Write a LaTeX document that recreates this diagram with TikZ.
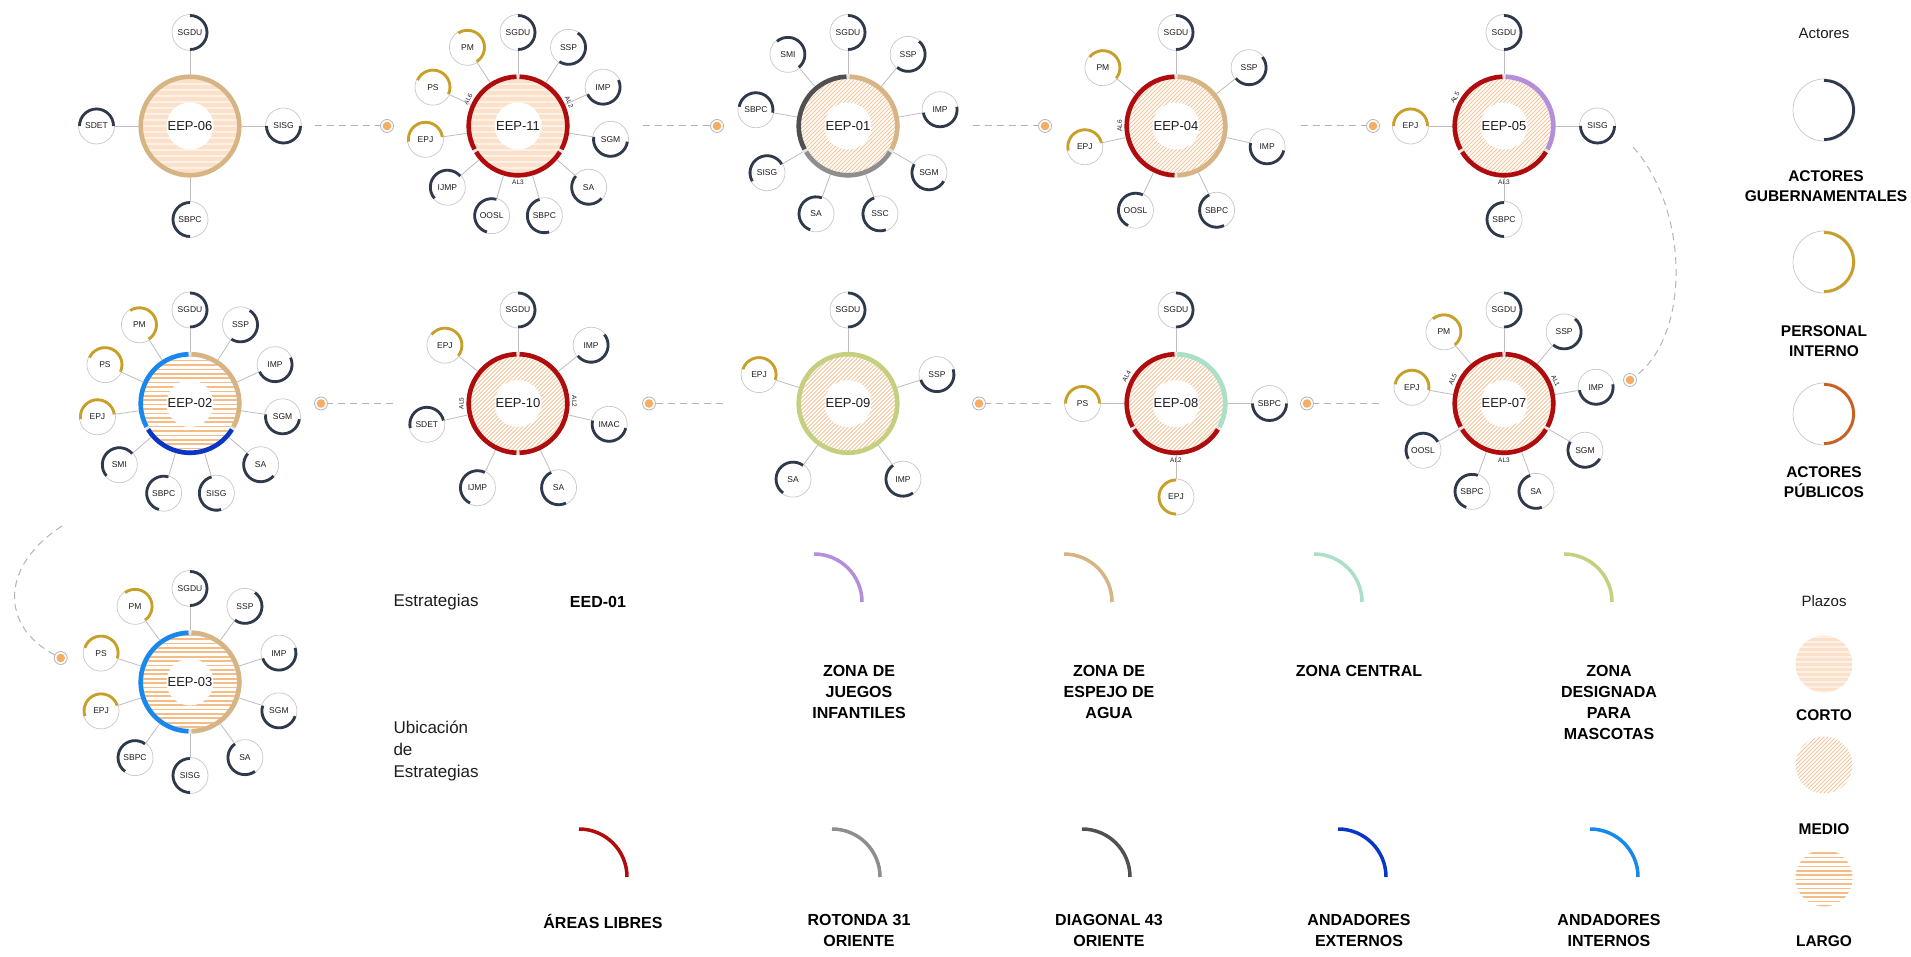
\documentclass[tikz,border=0pt]{standalone}
\usepackage{fontspec}
\setmainfont{Liberation Sans}
\usetikzlibrary{calc}
\definecolor{gov}{HTML}{2E3A4B}
\definecolor{pers}{HTML}{C9A027}
\definecolor{pub}{HTML}{C8601F}
\definecolor{alred}{HTML}{B00C0E}
\definecolor{tanc}{HTML}{D6B483}
\definecolor{purp}{HTML}{B48EDB}
\definecolor{mint}{HTML}{A9E0C6}
\definecolor{olive}{HTML}{C5CF80}
\definecolor{grayr}{HTML}{8E8E8E}
\definecolor{darkr}{HTML}{505050}
\definecolor{bext}{HTML}{0A36C8}
\definecolor{bint}{HTML}{1887EE}
\definecolor{satline}{HTML}{C8C8C8}
\definecolor{connc}{HTML}{BDBDBD}
\definecolor{cortofill}{HTML}{FBE1CA}
\definecolor{peachline}{HTML}{F2C39A}
\definecolor{largoline}{HTML}{F4BC86}
\definecolor{gapc}{HTML}{E4E4E4}
\definecolor{dashgray}{HTML}{B4B4B4}
\definecolor{dotfill}{HTML}{F5AE66}
\definecolor{txt}{HTML}{1E1E1E}
\tikzset{
  satn/.style={circle,draw=satline,line width=0.7pt,minimum size=36pt,inner sep=0pt,fill=white,text=txt,font=\fontsize{8.5}{9}\selectfont},
  ctr/.style={circle,minimum size=103pt,inner sep=0pt,text=txt,font=\fontsize{13}{14}\selectfont},
  conn/.style={draw=connc,line width=0.8pt},
  ga/.style={draw=gov,line width=2.8pt},
  pa/.style={draw=pers,line width=2.8pt},
  puba/.style={draw=pub,line width=2.8pt},
  ringw/.style={line width=4.6pt},
  allabel/.style={inner sep=0pt,text=txt,font=\fontsize{6.5}{7}\selectfont},
  dotn/.style={circle,draw=dashgray,fill=white,line width=0.8pt,minimum size=13pt,inner sep=0pt,
    path picture={\fill[dotfill] (path picture bounding box.center) circle (4.3pt);}},
  dashc/.style={draw=dashgray,line width=1pt,dash pattern=on 7pt off 5pt},
  legcirc/.style={circle,draw=satline,line width=0.7pt,minimum size=62pt,inner sep=0pt},
  legbold/.style={align=center,text=black,font=\bfseries\fontsize{15.5}{20}\selectfont},
  legreg/.style={text=txt,font=\fontsize{15}{18}\selectfont},
  stratlab/.style={align=center,anchor=north,text=black,font=\bfseries\fontsize{16}{21}\selectfont},
  legarc/.style={line width=3.5pt},
}
\newcommand\mkcl[3]{%
  \foreach \lbl/\sty [count=\k from 0] in {#3}{%
    \pgfmathsetmacro\ang{90-\k*360/#2}%
    \pgfmathsetmacro\angs{\ang-180}%
    \node[satn] (#1s\k) at ($(#1)+(\ang:93.5pt)$) {\lbl};
    \draw[\sty] ($(#1s\k)+(\angs:17pt)$) arc[start angle=\angs,end angle=\ang,radius=17pt];
    \draw[conn] (#1) -- (#1s\k);
  }}
\newcommand\fillcorto[1]{%
  \begin{scope}
    \clip (#1) circle (49.5pt);
    \fill[cortofill] (#1) circle (49.5pt);
    \foreach \yy in {-48,-42,...,48} {\draw[white,opacity=0.55,line width=1.6pt] ($(#1)+(-52,\yy)$) -- ++(104,0);}
  \end{scope}
  \fill[white] (#1) circle (23.5pt);}
\newcommand\fillmedio[1]{%
  \begin{scope}
    \clip (#1) circle (49.5pt);
    \foreach \kk in {-108,-104,...,108} {\draw[peachline,line width=0.8pt] ($(#1)+(\kk-55,-55)$) -- ++(110,110);}
  \end{scope}
  \fill[white] (#1) circle (23.5pt);}
\newcommand\filllargo[1]{%
  \begin{scope}
    \clip (#1) circle (49.5pt);
    \foreach \yy in {-49.5,-45.1,...,50} {\draw[largoline,line width=1.7pt] ($(#1)+(-52,\yy)$) -- ++(104,0);}
  \end{scope}
  \fill[white] (#1) circle (23.5pt);}
\newcommand\rseg[4]{\draw[ringw,#4] ($(#1)+(#2:49.3pt)$) arc[start angle=#2,end angle=#3,radius=49.3pt];}
\newcommand\rbase[1]{\draw[ringw,gapc] (#1) circle (49.3pt);}
\newcommand\allab[5]{\node[allabel,rotate=#3] (#4) at ($(#1)+(#2:56.5pt)$) {#5};}

\begin{document}
\begin{tikzpicture}[x=1pt,y=1pt]
\useasboundingbox (0,0) rectangle (1911,956);
\fill[white] (0,0) rectangle (1911,956);

% ---------- positions
\coordinate (p06) at (190,830);
\coordinate (p11) at (518,830);
\coordinate (p01) at (848,830);
\coordinate (p04) at (1176,830);
\coordinate (p05) at (1504,830);
\coordinate (p02) at (190,552.5);
\coordinate (p10) at (518,552.5);
\coordinate (p09) at (848,552.5);
\coordinate (p08) at (1176,552.5);
\coordinate (p07) at (1504,552.5);
\coordinate (p03) at (190,274);

% ---------- fills
\fillcorto{p06}
\fillcorto{p11}
\fillmedio{p01}
\fillmedio{p04}
\fillmedio{p05}
\filllargo{p02}
\fillmedio{p10}
\fillmedio{p09}
\fillmedio{p08}
\fillmedio{p07}
\filllargo{p03}

% ---------- centre nodes
\node[ctr] (c06) at (p06) {EEP-06};
\node[ctr] (c11) at (p11) {EEP-11};
\node[ctr] (c01) at (p01) {EEP-01};
\node[ctr] (c04) at (p04) {EEP-04};
\node[ctr] (c05) at (p05) {EEP-05};
\node[ctr] (c02) at (p02) {EEP-02};
\node[ctr] (c10) at (p10) {EEP-10};
\node[ctr] (c09) at (p09) {EEP-09};
\node[ctr] (c08) at (p08) {EEP-08};
\node[ctr] (c07) at (p07) {EEP-07};
\node[ctr] (c03) at (p03) {EEP-03};

% ---------- rings
\draw[ringw,tanc] (c06.center) circle (49.3pt);
\rbase{c11}
\rseg{c11}{88.2}{-28.2}{alred}\rseg{c11}{-31.8}{-148.2}{alred}\rseg{c11}{-151.8}{-268.2}{alred}
\allab{c11}{152}{62}{c11a}{AL6}\allab{c11}{25}{-65}{c11b}{AL2}\allab{c11}{-90}{0}{c11c}{AL3}
\rbase{c01}
\rseg{c01}{88.2}{-28.2}{tanc}\rseg{c01}{-31.8}{-148.2}{grayr}\rseg{c01}{-151.8}{-268.2}{darkr}
\rbase{c04}
\rseg{c04}{88.2}{-88.2}{tanc}\rseg{c04}{91.8}{268.2}{alred}
\allab{c04}{180}{90}{c04a}{AL6}
\rbase{c05}
\rseg{c05}{88.2}{-28.2}{purp}\rseg{c05}{-31.8}{-148.2}{alred}\rseg{c05}{-151.8}{-268.2}{alred}
\allab{c05}{150}{60}{c05a}{AL5}\allab{c05}{-90}{0}{c05b}{AL3}
\rbase{c02}
\rseg{c02}{88.2}{-28.2}{tanc}\rseg{c02}{-31.8}{-148.2}{bext}\rseg{c02}{-151.8}{-268.2}{bint}
\rbase{c10}
\rseg{c10}{88.2}{-88.2}{alred}\rseg{c10}{91.8}{268.2}{alred}
\allab{c10}{180}{90}{c10a}{AL5}\allab{c10}{2}{-90}{c10b}{AL2}
\draw[ringw,olive] (c09.center) circle (49.3pt);
\rbase{c08}
\rseg{c08}{88.2}{-28.2}{mint}\rseg{c08}{-31.8}{-148.2}{alred}\rseg{c08}{-151.8}{-268.2}{alred}
\allab{c08}{151}{61}{c08a}{AL4}\allab{c08}{-90}{0}{c08b}{AL2}
\rbase{c07}
\rseg{c07}{88.2}{-28.2}{alred}\rseg{c07}{-31.8}{-148.2}{alred}\rseg{c07}{-151.8}{-268.2}{alred}
\allab{c07}{155}{65}{c07a}{AL5}\allab{c07}{24}{-66}{c07b}{AL1}\allab{c07}{-90}{0}{c07c}{AL3}
\rbase{c03}
\rseg{c03}{88.2}{-88.2}{tanc}\rseg{c03}{91.8}{268.2}{bint}

% ---------- satellites
\mkcl{c06}{4}{SGDU/ga,SISG/ga,SBPC/ga,SDET/ga}
\mkcl{c11}{11}{SGDU/ga,SSP/ga,IMP/ga,SGM/ga,SA/ga,SBPC/ga,OOSL/ga,IJMP/ga,EPJ/pa,PS/pa,PM/pa}
\mkcl{c01}{9}{SGDU/ga,SSP/ga,IMP/ga,SGM/ga,SSC/ga,SA/ga,SISG/ga,SBPC/ga,SMI/ga}
\mkcl{c04}{7}{SGDU/ga,SSP/ga,IMP/ga,SBPC/ga,OOSL/ga,EPJ/pa,PM/pa}
\mkcl{c05}{4}{SGDU/ga,SISG/ga,SBPC/ga,EPJ/pa}
\mkcl{c02}{11}{SGDU/ga,SSP/ga,IMP/ga,SGM/ga,SA/ga,SISG/ga,SBPC/ga,SMI/ga,EPJ/pa,PS/pa,PM/pa}
\mkcl{c10}{7}{SGDU/ga,IMP/ga,IMAC/ga,SA/ga,IJMP/ga,SDET/ga,EPJ/pa}
\mkcl{c09}{5}{SGDU/ga,SSP/ga,IMP/ga,SA/ga,EPJ/pa}
\mkcl{c08}{4}{SGDU/ga,SBPC/ga,EPJ/pa,PS/pa}
\mkcl{c07}{9}{SGDU/ga,SSP/ga,IMP/ga,SGM/ga,SA/ga,SBPC/ga,OOSL/ga,EPJ/pa,PM/pa}
\mkcl{c03}{10}{SGDU/ga,SSP/ga,IMP/ga,SGM/ga,SA/ga,SISG/ga,SBPC/ga,EPJ/pa,PS/pa,PM/pa}

% ---------- flow connectors row 1
\node[dotn] (d1) at (387,830) {};
\node[dotn] (d2) at (717,830) {};
\node[dotn] (d3) at (1045,830) {};
\node[dotn] (d4) at (1373,830) {};
\coordinate (e1) at (315,830);
\coordinate (e2) at (643,830);
\coordinate (e3) at (973,830);
\coordinate (e4) at (1301,830);
\draw[dashc] (e1) -- (d1);
\draw[dashc] (e2) -- (d2);
\draw[dashc] (e3) -- (d3);
\draw[dashc] (e4) -- (d4);
% row 2
\node[dotn] (d5) at (1307,552.5) {};
\node[dotn] (d6) at (979,552.5) {};
\node[dotn] (d7) at (649,552.5) {};
\node[dotn] (d8) at (321,552.5) {};
\coordinate (e5) at (1379,552.5);
\coordinate (e6) at (1051,552.5);
\coordinate (e7) at (723,552.5);
\coordinate (e8) at (393,552.5);
\draw[dashc] (e5) -- (d5);
\draw[dashc] (e6) -- (d6);
\draw[dashc] (e7) -- (d7);
\draw[dashc] (e8) -- (d8);
% curves
\node[dotn] (d9) at (1630,576) {};
\coordinate (e9) at (1633,809);
\draw[dashc] (e9) .. controls (1690,745) and (1690,620) .. (d9);
\node[dotn] (d10) at (60.7,298) {};
\coordinate (e10) at (62,430);
\draw[dashc] (e10) .. controls (0,390) and (0,330) .. (d10);

% ---------- legend right
\node[legreg] (lgA) at (1824,923) {Actores};
\node[legcirc] (lg1) at (1824,846) {};
\draw[ga] ($(lg1)+(-90:29.5pt)$) arc[start angle=-90,end angle=90,radius=29.5pt];
\node[legbold] (lg1t) at (1826,769.5) {ACTORES\\GUBERNAMENTALES};
\node[legcirc] (lg2) at (1824,694) {};
\draw[pa] ($(lg2)+(-90:29.5pt)$) arc[start angle=-90,end angle=90,radius=29.5pt];
\node[legbold] (lg2t) at (1824,615) {PERSONAL\\INTERNO};
\node[legcirc] (lg3) at (1824,542) {};
\draw[puba] ($(lg3)+(-90:29.5pt)$) arc[start angle=-90,end angle=90,radius=29.5pt];
\node[legbold] (lg3t) at (1824,474) {ACTORES\\PÚBLICOS};
\node[legreg] (lgP) at (1824,355) {Plazos};
\coordinate (lq1) at (1824,292);
\begin{scope}\clip (lq1) circle (28.5pt); \fill[cortofill] (lq1) circle (28.5pt);
\foreach \yy in {-28,-23,...,28} {\draw[white,opacity=0.55,line width=1.4pt] ($(lq1)+(-30,\yy)$) -- ++(60,0);}\end{scope}
\node[legbold] (lq1t) at (1824,241) {CORTO};
\coordinate (lq2) at (1824,191);
\begin{scope}\clip (lq2) circle (28.5pt);
\foreach \kk in {-64,-60,...,64} {\draw[peachline,line width=0.8pt] ($(lq2)+(\kk-32,-32)$) -- ++(64,64);}\end{scope}
\node[legbold] (lq2t) at (1824,127) {MEDIO};
\coordinate (lq3) at (1824,78);
\begin{scope}\clip (lq3) circle (28.5pt);
\foreach \yy in {-28,-23.6,...,28} {\draw[largoline,line width=1.7pt] ($(lq3)+(-30,\yy)$) -- ++(60,0);}\end{scope}
\node[legbold] (lq3t) at (1824,15) {LARGO};

% ---------- legend strategies
\node[legreg,anchor=west,font=\fontsize{17}{20}\selectfont] (ls1) at (390,354) {Estrategias};
\node[text=black,font=\bfseries\fontsize{16}{20}\selectfont] (ls2) at (598,354) {EED-01};
\node[legreg,anchor=west,align=left,font=\fontsize{17}{22}\selectfont] (ls3) at (390,205) {Ubicación\\de\\Estrategias};

\coordinate (a1) at (814,354);
\draw[legarc,purp] ($(a1)+(90:48pt)$) arc[start angle=90,end angle=0,radius=48pt];
\node[stratlab] (t1) at (859,294) {ZONA DE\\JUEGOS\\INFANTILES};
\coordinate (a2) at (1064,354);
\draw[legarc,tanc] ($(a2)+(90:48pt)$) arc[start angle=90,end angle=0,radius=48pt];
\node[stratlab] (t2) at (1109,294) {ZONA DE\\ESPEJO DE\\AGUA};
\coordinate (a3) at (1314,354);
\draw[legarc,mint] ($(a3)+(90:48pt)$) arc[start angle=90,end angle=0,radius=48pt];
\node[stratlab] (t3) at (1359,294) {ZONA CENTRAL};
\coordinate (a4) at (1564,354);
\draw[legarc,olive] ($(a4)+(90:48pt)$) arc[start angle=90,end angle=0,radius=48pt];
\node[stratlab] (t4) at (1609,294) {ZONA\\DESIGNADA\\PARA\\MASCOTAS};

\coordinate (b1) at (579,79);
\draw[legarc,alred] ($(b1)+(90:48pt)$) arc[start angle=90,end angle=0,radius=48pt];
\node[stratlab] (u1) at (603,45) {ÁREAS LIBRES};
\coordinate (b2) at (832,79);
\draw[legarc,grayr] ($(b2)+(90:48pt)$) arc[start angle=90,end angle=0,radius=48pt];
\node[stratlab] (u2) at (859,45) {ROTONDA 31\\ORIENTE};
\coordinate (b3) at (1082,79);
\draw[legarc,darkr] ($(b3)+(90:48pt)$) arc[start angle=90,end angle=0,radius=48pt];
\node[stratlab] (u3) at (1109,45) {DIAGONAL 43\\ORIENTE};
\coordinate (b4) at (1338,79);
\draw[legarc,bext] ($(b4)+(90:48pt)$) arc[start angle=90,end angle=0,radius=48pt];
\node[stratlab] (u4) at (1359,45) {ANDADORES\\EXTERNOS};
\coordinate (b5) at (1590,79);
\draw[legarc,bint] ($(b5)+(90:48pt)$) arc[start angle=90,end angle=0,radius=48pt];
\node[stratlab] (u5) at (1609,45) {ANDADORES\\INTERNOS};
\end{tikzpicture}
\end{document}
